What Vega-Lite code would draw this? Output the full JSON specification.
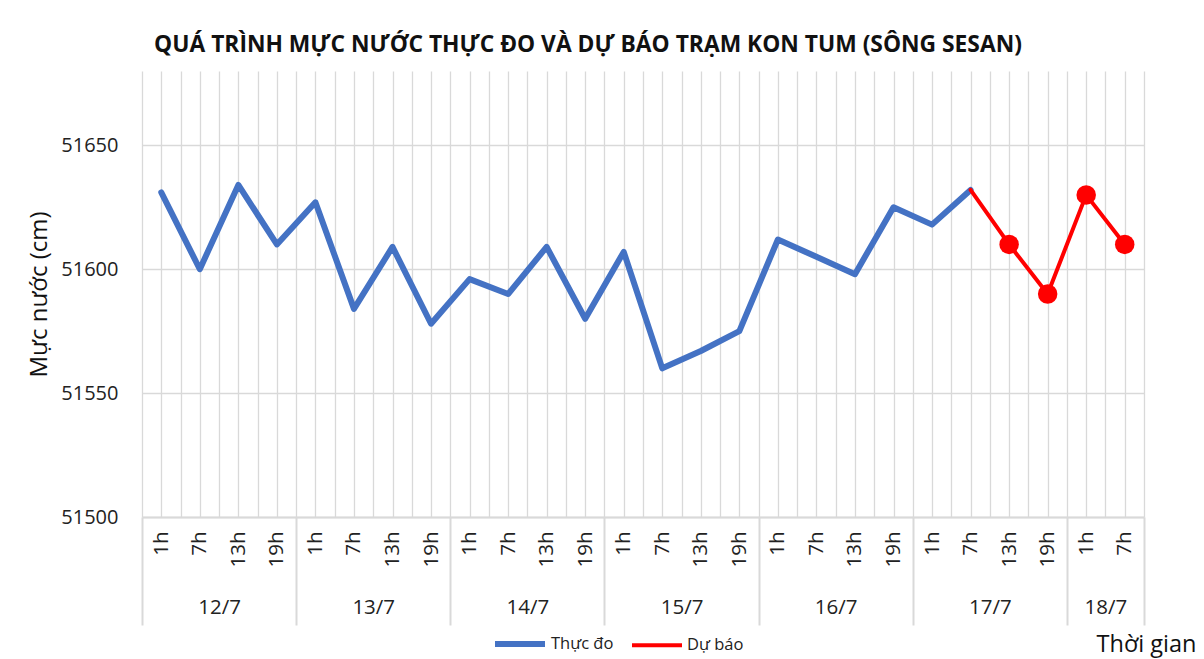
{
  "$schema": "https://vega.github.io/schema/vega-lite/v6.json",
  "width": 1002,
  "height": 446,
  "autosize": {"type": "none"},
  "padding": {"left": 142, "top": 71, "right": 60, "bottom": 142},
  "background": "white",
  "config": {"view": {"stroke": null}},
  "title": {
    "text": "QUÁ TRÌNH MỰC NƯỚC THỰC ĐO VÀ DỰ BÁO TRẠM KON TUM (SÔNG SESAN)",
    "anchor": "middle",
    "frame": "group",
    "dx": -55,
    "offset": 14,
    "font": "Open Sans",
    "fontSize": 22.8,
    "fontWeight": "bold",
    "color": "#111"
  },
  "data": {
    "values": [
      {"idx": 0, "value": 51631, "series": "Thực đo"},
      {"idx": 1, "value": 51600, "series": "Thực đo"},
      {"idx": 2, "value": 51634, "series": "Thực đo"},
      {"idx": 3, "value": 51610, "series": "Thực đo"},
      {"idx": 4, "value": 51627, "series": "Thực đo"},
      {"idx": 5, "value": 51584, "series": "Thực đo"},
      {"idx": 6, "value": 51609, "series": "Thực đo"},
      {"idx": 7, "value": 51578, "series": "Thực đo"},
      {"idx": 8, "value": 51596, "series": "Thực đo"},
      {"idx": 9, "value": 51590, "series": "Thực đo"},
      {"idx": 10, "value": 51609, "series": "Thực đo"},
      {"idx": 11, "value": 51580, "series": "Thực đo"},
      {"idx": 12, "value": 51607, "series": "Thực đo"},
      {"idx": 13, "value": 51560, "series": "Thực đo"},
      {"idx": 14, "value": 51567, "series": "Thực đo"},
      {"idx": 15, "value": 51575, "series": "Thực đo"},
      {"idx": 16, "value": 51612, "series": "Thực đo"},
      {"idx": 17, "value": 51605, "series": "Thực đo"},
      {"idx": 18, "value": 51598, "series": "Thực đo"},
      {"idx": 19, "value": 51625, "series": "Thực đo"},
      {"idx": 20, "value": 51618, "series": "Thực đo"},
      {"idx": 21, "value": 51632, "series": "Thực đo"},
      {"idx": 21, "value": 51632, "series": "Dự báo", "marker": false},
      {"idx": 22, "value": 51610, "series": "Dự báo", "marker": true},
      {"idx": 23, "value": 51590, "series": "Dự báo", "marker": true},
      {"idx": 24, "value": 51630, "series": "Dự báo", "marker": true},
      {"idx": 25, "value": 51610, "series": "Dự báo", "marker": true}
    ]
  },
  "resolve": {"axis": {"x": "independent"}},
  "layer": [
    {
      "mark": {"type": "line", "strokeCap": "round", "strokeJoin": "round"},
      "encoding": {
        "x": {
          "field": "idx",
          "type": "quantitative",
          "scale": {"domain": [-0.5, 25.5], "nice": false, "zero": false},
          "axis": {
            "orient": "bottom",
            "title": null,
            "values": [-0.5, 0, 0.5, 1, 1.5, 2, 2.5, 3, 3.5, 4, 4.5, 5, 5.5, 6, 6.5, 7, 7.5, 8, 8.5, 9, 9.5, 10, 10.5, 11, 11.5, 12, 12.5, 13, 13.5, 14, 14.5, 15, 15.5, 16, 16.5, 17, 17.5, 18, 18.5, 19, 19.5, 20, 20.5, 21, 21.5, 22, 22.5, 23, 23.5, 24, 24.5, 25, 25.5],
            "labelExpr": "datum.value % 1 == 0 ? ['1h','7h','13h','19h'][datum.value % 4] : ''",
            "labelAngle": -90,
            "labelAlign": "right",
            "labelBaseline": "middle",
            "labelPadding": -94,
            "labelFont": "Open Sans",
            "labelFontSize": 20.5,
            "labelColor": "#222",
            "labelOverlap": false,
            "labelBound": false,
            "labelFlush": false,
            "grid": true,
            "gridColor": "#d9d9d9",
            "gridWidth": 1.3,
            "ticks": true,
            "tickSize": 108,
            "tickColor": "#d9d9d9",
            "tickWidth": 2,
            "tickOpacity": {"condition": {"test": "(datum.value + 0.5) % 4 == 0 || datum.value == 25.5", "value": 1}, "value": 0},
            "domain": true,
            "domainColor": "#d9d9d9",
            "domainWidth": 2
          }
        },
        "y": {
          "field": "value",
          "type": "quantitative",
          "scale": {"domain": [51500, 51680], "nice": false, "zero": false},
          "axis": {
            "title": "Mực nước (cm)",
            "values": [51500, 51550, 51600, 51650],
            "format": "d",
            "grid": true,
            "gridColor": "#d9d9d9",
            "gridWidth": 1.3,
            "ticks": false,
            "domain": false,
            "labelPadding": 24,
            "labelFont": "Open Sans",
            "labelFontSize": 20,
            "labelColor": "#222",
            "titleFont": "Open Sans",
            "titleFontSize": 24,
            "titleFontWeight": "normal",
            "titleColor": "#111",
            "titlePadding": 9
          }
        },
        "color": {
          "field": "series",
          "type": "nominal",
          "scale": {"domain": ["Thực đo", "Dự báo"], "range": ["#4472C4", "#FF0000"]},
          "legend": {
            "title": null,
            "orient": "none",
            "direction": "horizontal",
            "legendX": 350,
            "legendY": 545,
            "symbolType": "stroke",
            "symbolSize": 2500,
            "symbolStrokeWidth": 5,
            "labelFont": "Open Sans",
            "labelFontSize": 16.5,
            "labelColor": "#222",
            "columnSpacing": 38,
            "labelOffset": 3
          }
        },
        "strokeWidth": {
          "field": "series",
          "type": "nominal",
          "scale": {"domain": ["Thực đo", "Dự báo"], "range": [6, 4]},
          "legend": null
        },
        "detail": {"field": "series"}
      }
    },
    {
      "transform": [{"filter": "datum.marker == true"}],
      "mark": {"type": "point", "filled": true, "opacity": 1, "size": 380, "shape": "circle"},
      "encoding": {
        "x": {
          "field": "idx",
          "type": "quantitative",
          "axis": {
            "orient": "bottom",
            "values": [1.5, 5.5, 9.5, 13.5, 17.5, 21.5, 24.5],
            "labelExpr": "datum.value == 1.5 ? '12/7' : datum.value == 5.5 ? '13/7' : datum.value == 9.5 ? '14/7' : datum.value == 13.5 ? '15/7' : datum.value == 17.5 ? '16/7' : datum.value == 21.5 ? '17/7' : '18/7'",
            "labelPadding": 80,
            "labelFont": "Open Sans",
            "labelFontSize": 20.5,
            "labelColor": "#222",
            "labelOverlap": false,
            "labelFlush": false,
            "grid": false,
            "ticks": false,
            "domain": false,
            "title": "Thời gian",
            "titleFont": "Open Sans",
            "titleFontSize": 23.5,
            "titleFontWeight": "normal",
            "titleColor": "#111",
            "titleAlign": "right",
            "titleAnchor": null,
            "titleX": 1054,
            "titleY": 134,
            "titleBaseline": "alphabetic"
          }
        },
        "y": {"field": "value", "type": "quantitative"},
        "color": {"field": "series", "type": "nominal"}
      }
    }
  ]
}
